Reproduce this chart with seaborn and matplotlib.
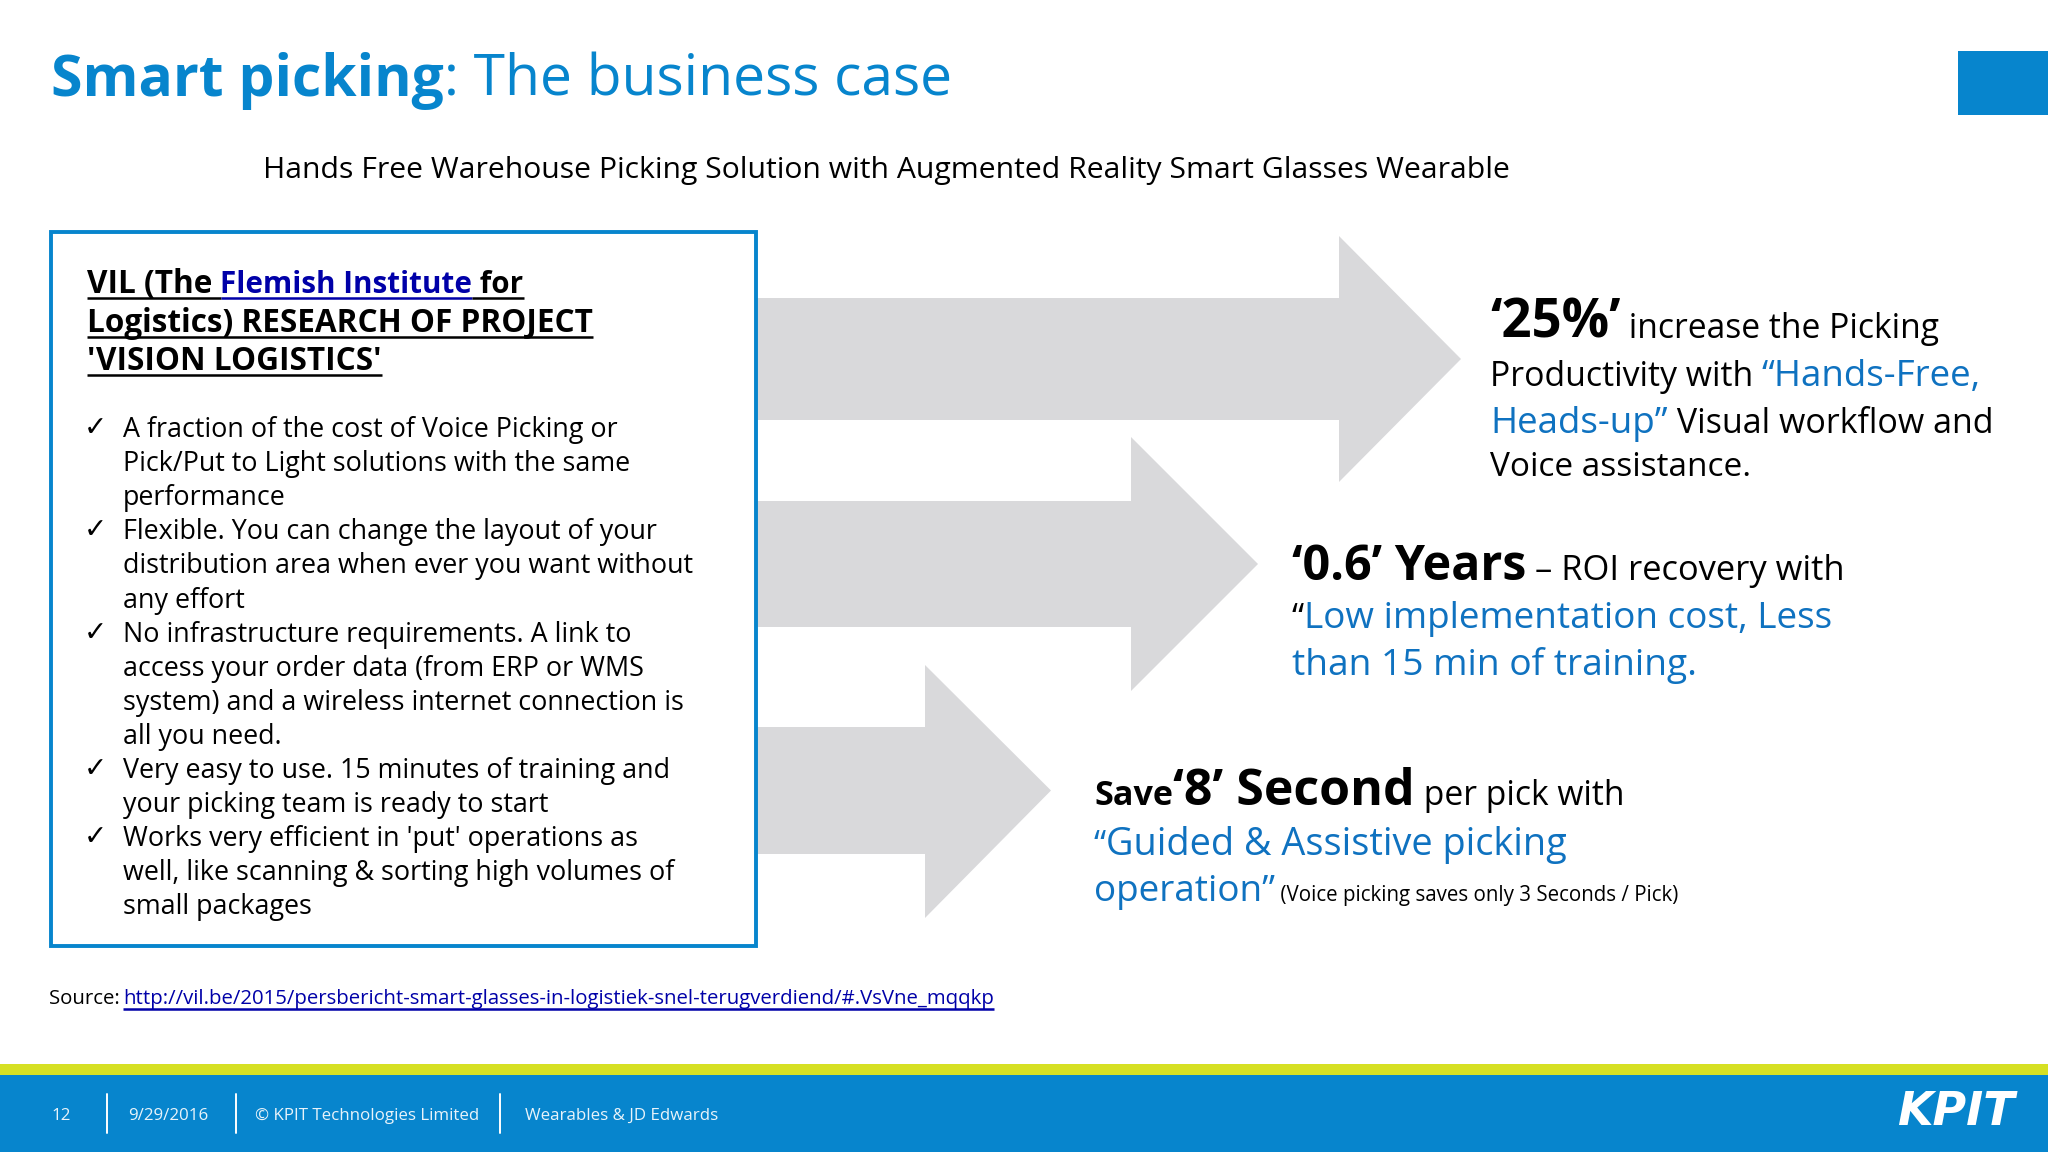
import matplotlib
matplotlib.use('Agg')
import matplotlib.pyplot as plt
import seaborn as sns

# Colours
BLUE = '#0785cd'
TEXT_BLUE = '#0f72c0'
LINK = '#0000a8'
LIME = '#d6e023'
GREY = '#d9d9db'

sns.set_theme(style='white')
plt.rcParams['font.family'] = ['Open Sans', 'DejaVu Sans']

# Slide text
subtitle = 'Hands Free Warehouse Picking Solution with Augmented Reality Smart Glasses Wearable'
bullets = [
    ['A fraction of the cost of Voice Picking or',
     'Pick/Put to Light solutions with the same',
     'performance'],
    ['Flexible. You can change the layout of your',
     'distribution area when ever you want without',
     'any effort'],
    ['No infrastructure requirements. A link to',
     'access your order data (from ERP or WMS',
     'system) and a wireless internet connection is',
     'all you need.'],
    ['Very easy to use. 15 minutes of training and',
     'your picking team is ready to start'],
    ['Works very efficient in \'put\' operations as',
     'well, like scanning & sorting high volumes of',
     'small packages'],
]
footer_labels = ['12', '9/29/2016', '© KPIT Technologies Limited', 'Wearables & JD Edwards']
footer_x = [51, 128, 255, 525]
footer_lines = [107, 236, 500]

# Arrows: body left, body top, body bottom, head x, head top, head bottom, tip x
arrows = [
    (757, 298, 420, 1339, 236, 482, 1461),
    (757, 501, 627, 1131, 437, 691, 1258),
    (757, 727, 854, 925, 665, 918, 1051),
]

fig = plt.figure(figsize=(20.48, 11.52), dpi=100)
ax = fig.add_axes([0, 0, 1, 1])
ax.set_xlim(0, 2048)
ax.set_ylim(1152, 0)
ax.axis('off')
renderer = fig.canvas.get_renderer()


def runs(x, y, parts, underline=False):
    # parts are (text, size, weight, colour), drawn one after the other on a baseline
    for text, size, weight, color in parts:
        t = ax.text(x, y, text, fontsize=size, fontweight=weight, color=color,
                    va='baseline', ha='left', zorder=5)
        w = t.get_window_extent(renderer).width
        if underline:
            ax.plot([x, x + w], [y + 5, y + 5], color=color, lw=1.8,
                    solid_capstyle='butt', zorder=5)
        x += w


# Header
runs(51, 96, [('Smart picking', 41, 'bold', BLUE), (': The business case', 41, 'normal', BLUE)])
ax.fill([1958, 2048, 2048, 1958], [51, 51, 115, 115], color=BLUE, lw=0)
runs(263, 178, [(subtitle, 21.7, 'normal', 'black')])

# Arrows
for x0, top, bot, hx, htop, hbot, tip in arrows:
    mid = (top + bot) / 2
    ax.fill([x0, hx, hx, tip, hx, hx, x0],
            [top, top, htop, mid, hbot, bot, bot], color=GREY, lw=0)

# Left box
ax.fill([51, 756, 756, 51], [232, 232, 946, 946], facecolor='white',
        edgecolor=BLUE, lw=2.8, zorder=3, joinstyle='miter')
heading = [
    [('VIL (The ', 22.7, 'bold', 'black'), ('Flemish Institute', 21.3, 'bold', LINK), (' for', 21.3, 'bold', 'black')],
    [('Logistics) RESEARCH OF PROJECT', 22.7, 'bold', 'black')],
    [("'VISION LOGISTICS'", 22.7, 'bold', 'black')],
]
for base, parts in zip([293, 332, 370], heading):
    runs(87, base, parts, underline=True)

base = 437
for group in bullets:
    ax.text(84, base - 1, '✓', fontsize=20, color='black', va='baseline', ha='left',
            family='DejaVu Sans', zorder=5)
    for line in group:
        ax.text(123, base, line, fontsize=19.4, color='black', va='baseline', ha='left', zorder=5)
        base += 34.1

# Right hand call-outs
runs(1490, 338, [('‘25%’', 38, 'bold', 'black'), (' increase the Picking', 24.2, 'normal', 'black')])
runs(1490, 386, [('Productivity with ', 24.4, 'normal', 'black'), ('“Hands-Free,', 26.5, 'normal', TEXT_BLUE)])
runs(1490, 433, [('Heads-up”', 26.5, 'normal', TEXT_BLUE), (' Visual workflow and', 24.5, 'normal', 'black')])
runs(1490, 476, [('Voice assistance.', 24, 'normal', 'black')])

runs(1292, 580, [('‘0.6’ Years', 34.8, 'bold', 'black'), (' – ROI recovery with', 24.8, 'normal', 'black')])
runs(1292, 628, [('“', 25, 'normal', 'black'), ('Low implementation cost, Less', 26.6, 'normal', TEXT_BLUE)])
runs(1292, 675, [('than 15 min of training.', 26.7, 'normal', TEXT_BLUE)])

runs(1094, 805, [('Save', 24.6, 'bold', 'black'), ('‘8’ Second', 36, 'bold', 'black'), (' per pick with', 24.2, 'normal', 'black')])
runs(1094, 855, [('“', 25, 'normal', TEXT_BLUE), ('Guided & Assistive picking', 27.3, 'normal', TEXT_BLUE)])
runs(1094, 901, [('operation”', 26.6, 'normal', TEXT_BLUE), (' (Voice picking saves only 3 Seconds / Pick)', 14.8, 'normal', 'black')])

# Source line
runs(49, 1004, [('Source: ', 14.7, 'normal', 'black')])
runs(123, 1004, [('http://vil.be/2015/persbericht-smart-glasses-in-logistiek-snel-terugverdiend/#.VsVne_mqqkp', 14.7, 'normal', LINK)], underline=True)

# Footer
ax.fill([0, 2048, 2048, 0], [1064, 1064, 1075, 1075], color=LIME, lw=0)
ax.fill([0, 2048, 2048, 0], [1075, 1075, 1152, 1152], color=BLUE, lw=0)
for lx in footer_lines:
    ax.plot([lx, lx], [1094, 1133], color='white', lw=1.4)
for lx, label in zip(footer_x, footer_labels):
    ax.text(lx, 1120, label, fontsize=12.2, color='#e8f3fa', va='baseline', ha='left')
ax.text(1897, 1125, 'KPIT', fontsize=33, fontweight='bold', style='italic', color='white',
        family='DejaVu Sans', va='baseline', ha='left')

fig.savefig('out.png', dpi=100)
